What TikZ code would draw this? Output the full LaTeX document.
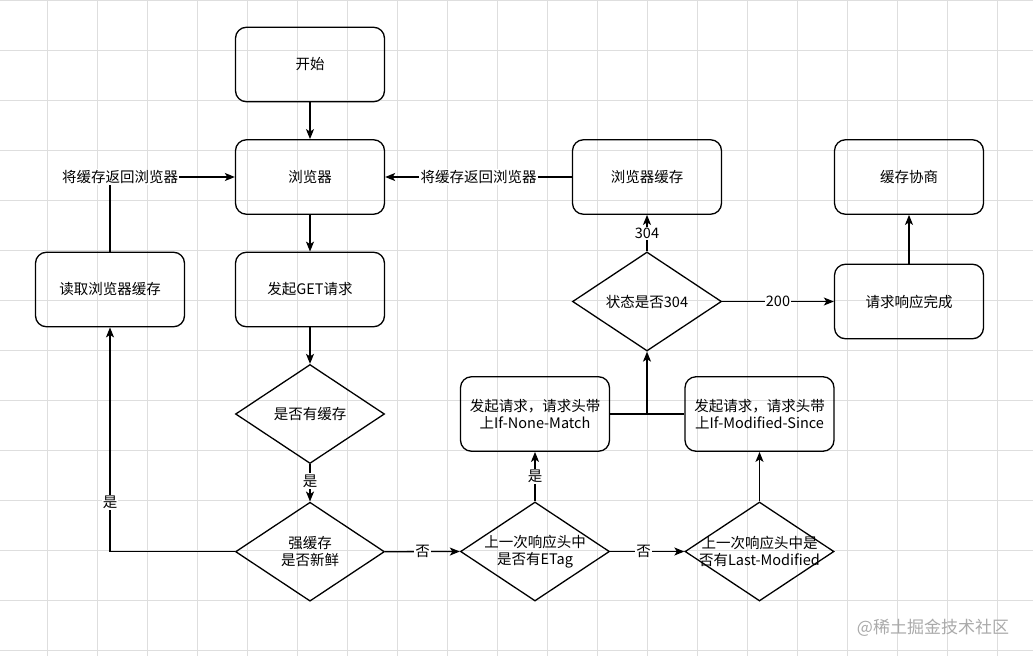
\documentclass[tikz,border=0pt]{standalone}
\usepackage{fontspec}
\setmainfont{Noto Sans CJK SC}
\usetikzlibrary{arrows.meta,shapes.geometric}
\definecolor{gridc}{HTML}{DEDEDE}
\definecolor{wmark}{HTML}{AAAAAA}
\begin{document}
\begin{tikzpicture}[x=1pt,y=-1pt,
  box/.style={draw, line width=1.3pt, rounded corners=11pt, minimum width=149pt, minimum height=74.5pt, inner sep=0pt, align=center, font=\fontsize{14.5}{17.5}\selectfont},
  dia/.style={draw, diamond, line width=1.3pt, minimum width=149pt, minimum height=99pt, inner sep=0pt},
  txt/.style={align=center, font=\fontsize{14.5}{17.5}\selectfont, inner sep=0pt},
  lbl/.style={fill=white, inner sep=1.2pt, font=\fontsize{14.5}{17}\selectfont},
  arr/.style={line width=1.3pt, -{Stealth[length=10pt,width=8pt,inset=2.5pt]}},
  ln/.style={line width=1.3pt}]
\useasboundingbox (0,0) rectangle (1033,656);
\fill[white] (0,0) rectangle (1033,656);
\foreach \i in {0,...,19} \draw[gridc, line width=0.8pt] ({47.3+50*\i},0) -- ({47.3+50*\i},656);
\foreach \j in {0,...,13} \draw[gridc, line width=0.8pt] (0,{0.7+50*\j}) -- (1033,{0.7+50*\j});

% boxes
\node[box] (start) at (310,64.5) {开始};
\node[box] (browser) at (310,177) {浏览器};
\node[box] (get) at (310,289.5) {发起GET请求};
\node[box] (read) at (110,289.5) {读取浏览器缓存};
\node[box] (bcache) at (647,177) {浏览器缓存};
\node[box] (nego) at (909,177) {缓存协商};
\node[box] (done) at (909,301.5) {请求响应完成};
\node[box] (inm) at (535,414) {发起请求，请求头带\\上If-None-Match};
\node[box] (ims) at (759.5,414) {发起请求，请求头带\\上If-Modified-Since};

% diamonds
\node[dia] (has) at (310,414) {};
\node[txt] (hast) at (has.center) {是否有缓存};
\node[dia] (fresh) at (310,551.7) {};
\node[txt] (fresht) at (fresh.center) {强缓存\\是否新鲜};
\node[dia] (etag) at (535,551.5) {};
\node[txt] (etagt) at (etag.center) {上一次响应头中\\是否有ETag};
\node[dia] (lm) at (759.5,551.5) {};
\node[txt] (lmt) at (lm.center) {上一次响应头中是\\否有Last-Modified};
\node[dia] (status) at (647,301.5) {};
\node[txt] (statust) at (status.center) {状态是否304};

% connectors
\draw[arr] (start) -- (browser);
\draw[arr] (browser) -- (get);
\draw[arr] (get) -- (has.north);
\draw[arr] (has.south) -- (fresh.north) node[lbl, pos=0.45] {是};
\coordinate (c1) at (110,551.7);
\draw[arr] (fresh.west) -- (c1) -- (read.south);
\node[lbl] at (110,502.7) {是};
\coordinate (c2) at (110,177);
\draw[arr] (read.north) -- (c2) -- (browser.west);
\node[lbl] at (120,177) {将缓存返回浏览器};
\draw[arr] (fresh.east) -- (etag.west) node[lbl, midway] {否};
\draw[arr] (etag.north) -- (inm.south) node[lbl, midway] {是};
\draw[arr] (etag.east) -- (lm.west) node[lbl, pos=0.45] {否};
\draw[arr] (lm.north) -- (ims.south);
\draw[ln] (inm.east) -- (ims.west);
\coordinate (m) at (647,414);
\draw[arr] (m) -- (status.south);
\draw[arr] (status.north) -- (bcache.south) node[lbl, midway] {304};
\draw[arr] (status.east) -- (done.west) node[lbl, pos=0.5] {200};
\draw[arr] (done) -- (nego);
\draw[arr] (bcache) -- (browser) node[lbl, pos=0.5] {将缓存返回浏览器};

% watermark
\node[wmark, font=\fontsize{17}{20}\selectfont, inner sep=0pt] (wm) at (933,627.5) {@稀土掘金技术社区};
\end{tikzpicture}
\end{document}
